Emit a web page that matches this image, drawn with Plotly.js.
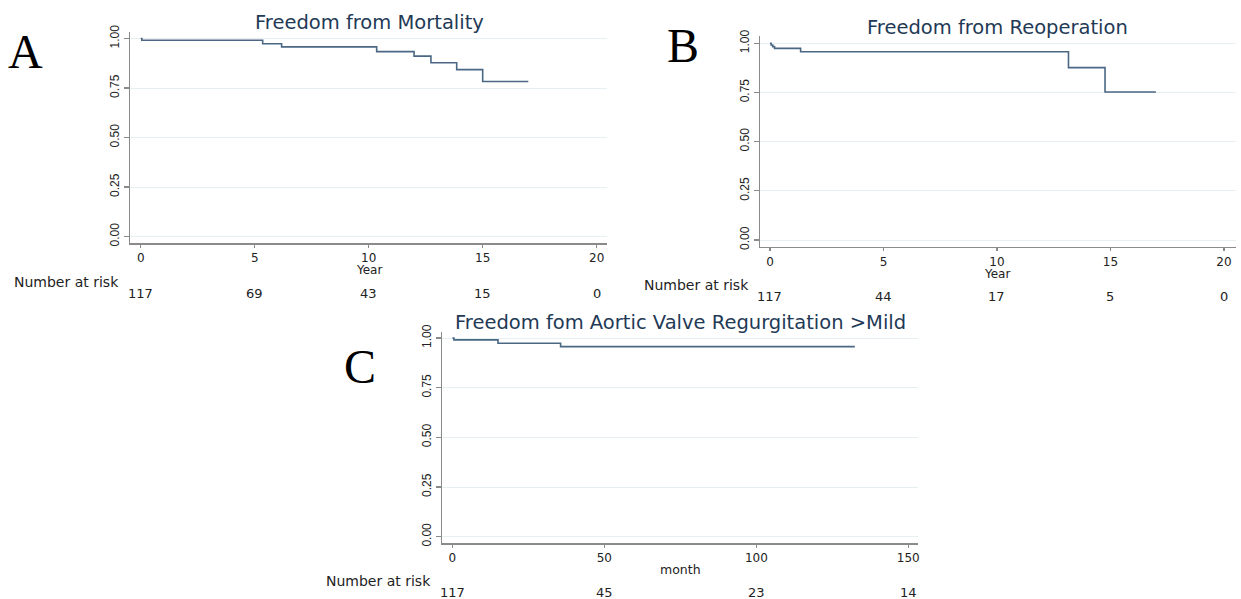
<!DOCTYPE html>
<html>
<head>
<meta charset="utf-8">
<script src="https://cdn.plot.ly/plotly-3.0.1.min.js"></script>
<style>html,body{margin:0;padding:0;background:#fff;}#chart{width:1241px;height:599px;}</style>
</head>
<body>
<div id="chart"></div>
<script>
// ---- Data ----
// Panel A: Freedom from Mortality (years)
const timeA = [0, 0.05, 5.35, 6.18, 10.35, 11.99, 12.73, 13.86, 15.0, 17.0];
const survA = [1.0, 0.991, 0.974, 0.958, 0.934, 0.911, 0.878, 0.843, 0.783, 0.783];
const riskTicksA = [0, 5, 10, 15, 20];
const riskA = ["117", "69", "43", "15", "0"];

// Panel B: Freedom from Reoperation (years)
const timeB = [0, 0.05, 0.12, 0.2, 1.35, 13.15, 14.76, 17.0];
const survB = [1.0, 0.991, 0.983, 0.974, 0.957, 0.876, 0.752, 0.752];
const riskTicksB = [0, 5, 10, 15, 20];
const riskB = ["117", "44", "17", "5", "0"];

// Panel C: Freedom fom Aortic Valve Regurgitation >Mild (months)
const timeC = [0, 0.5, 15.0, 35.6, 132.4];
const survC = [1.0, 0.991, 0.974, 0.957, 0.957];
const riskTicksC = [0, 50, 100, 150];
const riskC = ["117", "45", "23", "14"];

const yTicks = [0, 0.25, 0.5, 0.75, 1.0];
const titles = ["Freedom from Mortality", "Freedom from Reoperation", "Freedom fom Aortic Valve Regurgitation >Mild"];
const xTitles = ["Year", "Year", "month"];
const panelLetters = ["A", "B", "C"];

// ---- Layout helpers ----
const W = 1241, H = 599;
const dx = (a, b) => [a / W, b / W];
const dy = (top, bottom) => [1 - bottom / H, 1 - top / H];
const py = (p) => 1 - p / H;
const px = (p) => p / W;

const lineColor = "#4a6784";
const axisColor = "#8a8a8a";
const gridColor = "#e6eff1";
const titleColor = "#1f3a56";
const textColor = "#222222";
const sans = "DejaVu Sans, Liberation Sans, sans-serif";

function xAxis(domain, range, ticks, anchor) {
  return {
    domain: domain, range: range, anchor: anchor,
    tickmode: "array", tickvals: ticks,
    showline: true, linecolor: axisColor, linewidth: 1.5,
    ticks: "outside", ticklen: 3, tickwidth: 1.2, tickcolor: axisColor,
    showgrid: false, zeroline: false,
    tickfont: {family: sans, size: 12, color: textColor}
  };
}
function yAxis(domain, range, anchor) {
  return {
    domain: domain, range: range, anchor: anchor,
    tickmode: "array", tickvals: yTicks, tickformat: ".2f", tickangle: -90,
    showline: true, linecolor: axisColor, linewidth: 1.5,
    ticks: "outside", ticklen: 5, tickwidth: 1.2, tickcolor: axisColor,
    showgrid: true, gridcolor: gridColor, gridwidth: 1, zeroline: false,
    tickfont: {family: "Liberation Sans, Arial, sans-serif", size: 12, color: textColor}
  };
}

const traces = [
  {x: timeA, y: survA, xaxis: "x", yaxis: "y"},
  {x: timeB, y: survB, xaxis: "x2", yaxis: "y2"},
  {x: timeC, y: survC, xaxis: "x3", yaxis: "y3"}
].map(t => Object.assign(t, {type: "scatter", mode: "lines", line: {shape: "hv", color: lineColor, width: 1.6}, hoverinfo: "skip"}));

const annotations = [];
function addText(text, x, y, opts) {
  annotations.push(Object.assign({text: text, x: x, y: y, showarrow: false, xanchor: "center", yanchor: "middle"}, opts));
}

// Titles
addText(titles[0], px(369), py(23), {xref: "paper", yref: "paper", font: {family: sans, size: 19.5, color: titleColor}});
addText(titles[1], px(997), py(27), {xref: "paper", yref: "paper", font: {family: sans, size: 19.5, color: titleColor}});
addText(titles[2], px(680), py(322), {xref: "paper", yref: "paper", font: {family: sans, size: 19.5, color: titleColor}});

// Axis titles
addText(xTitles[0], 10, py(269.5), {xref: "x", yref: "paper", font: {family: sans, size: 12, color: textColor}});
addText(xTitles[1], 10, py(274), {xref: "x2", yref: "paper", font: {family: sans, size: 12, color: textColor}});
addText(xTitles[2], 75, py(569), {xref: "x3", yref: "paper", font: {family: sans, size: 12.5, color: textColor}});

// Number at risk labels
addText("Number at risk", px(12), py(281.5), {xref: "paper", yref: "paper", xanchor: "left", font: {family: sans, size: 14, color: textColor}});
addText("Number at risk", px(642), py(284.5), {xref: "paper", yref: "paper", xanchor: "left", font: {family: sans, size: 14, color: textColor}});
addText("Number at risk", px(324), py(581), {xref: "paper", yref: "paper", xanchor: "left", font: {family: sans, size: 14, color: textColor}});

riskTicksA.forEach((t, i) => addText(riskA[i], t, py(293.5), {xref: "x", yref: "paper", font: {family: sans, size: 13, color: textColor}}));
riskTicksB.forEach((t, i) => addText(riskB[i], t, py(296.5), {xref: "x2", yref: "paper", font: {family: sans, size: 13, color: textColor}}));
riskTicksC.forEach((t, i) => addText(riskC[i], t, py(592), {xref: "x3", yref: "paper", font: {family: sans, size: 13, color: textColor}}));

// Panel letters
const letterFont = {family: "Liberation Serif, DejaVu Serif, serif", size: 48, color: "#000000"};
addText(panelLetters[0], px(25.5), py(52), {xref: "paper", yref: "paper", font: letterFont});
addText(panelLetters[1], px(683), py(45), {xref: "paper", yref: "paper", font: letterFont});
addText(panelLetters[2], px(360), py(366), {xref: "paper", yref: "paper", font: letterFont});

const layout = {
  width: W, height: H,
  margin: {l: 0, r: 0, t: 0, b: 0},
  paper_bgcolor: "#ffffff", plot_bgcolor: "#ffffff",
  showlegend: false,
  xaxis:  xAxis(dx(130, 606.7), [-0.469, 20.439], riskTicksA, "y"),
  yaxis:  yAxis(dy(32, 243.3), [-0.034, 1.033], "x"),
  xaxis2: xAxis(dx(760, 1236), [-0.44, 20.53], riskTicksB, "y2"),
  yaxis2: yAxis(dy(36, 246.7), [-0.034, 1.037], "x2"),
  xaxis3: xAxis(dx(442, 918), [-3.42, 153.19], riskTicksC, "y3"),
  yaxis3: yAxis(dy(331.7, 543.3), [-0.033, 1.032], "x3"),
  annotations: annotations
};

Plotly.newPlot("chart", traces, layout, {staticPlot: true, displayModeBar: false});
</script>
</body>
</html>
